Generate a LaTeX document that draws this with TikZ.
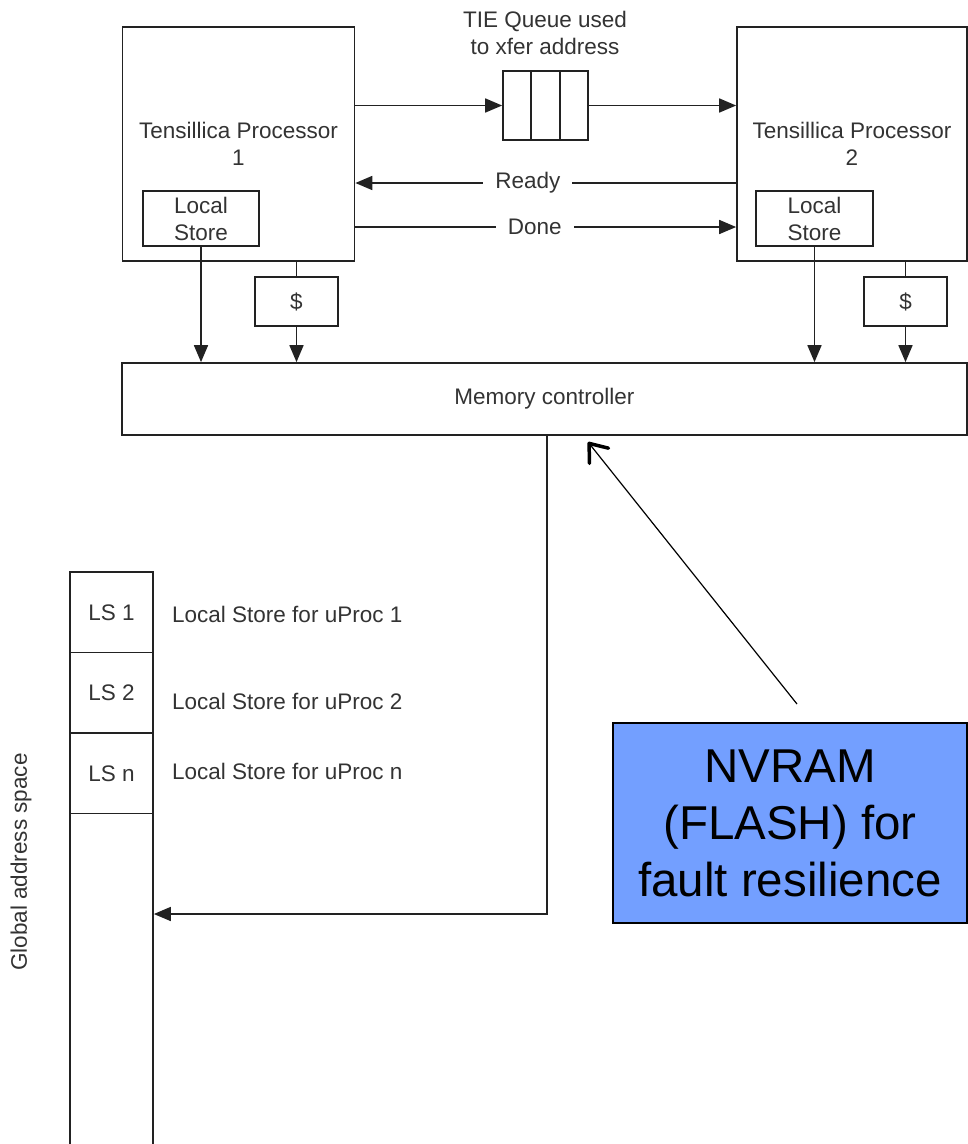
\documentclass[tikz,border=0pt]{standalone}
\usepackage{fontspec}
\setmainfont{Liberation Sans}
\usetikzlibrary{arrows.meta,calc}
\definecolor{txt}{HTML}{333333}
\definecolor{edge}{HTML}{222222}
\definecolor{nvblue}{RGB}{115,159,255}
\begin{document}
\begin{tikzpicture}[x=1pt,y=-1pt,
  blk/.style={draw=edge, line width=1.7pt, inner sep=0pt, align=center, text=txt,
    font=\fontsize{22.5}{27}\selectfont},
  lbl/.style={text=txt, inner sep=0pt, align=center, font=\fontsize{22.5}{27}\selectfont},
  ln/.style={draw=edge, line width=1.7pt},
  arr/.style={draw=edge, line width=1.7pt, -{Triangle[length=17pt,width=14pt]}},
  note/.style={draw=black, line width=1.2pt, -{Straight Barb[angle=75:20pt,line width=3.5pt,round]}}
]
\useasboundingbox (0,0) rectangle (968,1144);
\clip (0,0) rectangle (968,1144);

% processors
\node[blk, minimum width=232, minimum height=234] (p1) at (238.5,144) {Tensillica Processor\\1};
\node[blk, minimum width=230, minimum height=234] (p2) at (852,144) {Tensillica Processor\\2};
\node[blk, fill=white, minimum width=116, minimum height=55] (ls1) at (201,218.5) {Local\\Store};
\node[blk, fill=white, minimum width=117, minimum height=55] (ls2) at (814.5,218.5) {Local\\Store};
\node[blk, minimum width=83, minimum height=49] (c1) at (296.5,301.5) {\$};
\node[blk, minimum width=83, minimum height=49] (c2) at (905.5,301.5) {\$};
\node[blk, minimum width=845, minimum height=72] (mc) at (544.5,399) {Memory controller};

% queue
\node[blk, minimum width=85, minimum height=69] (q) at (545.5,105.5) {};
\draw[ln] ($(q.north west)!1/3!(q.north east)$) -- ($(q.south west)!1/3!(q.south east)$);
\draw[ln] ($(q.north west)!2/3!(q.north east)$) -- ($(q.south west)!2/3!(q.south east)$);
\node[lbl] (tie) at (545,33) {TIE Queue used\\to xfer address};

% processor links
\draw[arr] (p1.east |- q.west) -- (q.west);
\draw[arr] (q.east) -- (p2.west |- q.east);
\coordinate (ry) at (0,183);
\coordinate (dy) at (0,227);
\draw[arr] (p2.west |- ry) -- node[pos=0.547, lbl, fill=white, inner xsep=12pt, inner ysep=2pt] (ready) {Ready} (p1.east |- ry);
\draw[arr] (p1.east |- dy) -- node[pos=0.471, lbl, fill=white, inner xsep=12pt, inner ysep=2pt] (done) {Done} (p2.west |- dy);

% to memory controller
\draw[arr] (ls1.south) -- (ls1.south |- mc.north);
\draw[ln] (p1.south -| c1.north) -- (c1.north);
\draw[arr] (c1.south) -- (c1.south |- mc.north);
\draw[arr] (ls2.south) -- (ls2.south |- mc.north);
\draw[ln] (p2.south -| c2.north) -- (c2.north);
\draw[arr] (c2.south) -- (c2.south |- mc.north);

% global address space
\node[blk, minimum width=83, minimum height=80.5] (a1) at (111.5,612.25) {LS 1};
\node[blk, minimum width=83, minimum height=80.5] (a2) at (111.5,692.75) {LS 2};
\node[blk, minimum width=83, minimum height=80.5] (an) at (111.5,773.25) {LS n};
\node[blk, minimum width=83, minimum height=340] (arest) at (111.5,983.5) {};
\node[lbl, anchor=west] (t1) at (172,614) {Local Store for uProc 1};
\node[lbl, anchor=west] (t2) at (172,701) {Local Store for uProc 2};
\node[lbl, anchor=west] (tn) at (172,771) {Local Store for uProc n};
\node[lbl, rotate=90] (gas) at (21,862) {Global address space};

\coordinate (bend) at (547,914);
\draw[arr] (mc.south -| bend) -- (bend) -- (bend -| arest.east);

% NVRAM note
\node[draw=black, line width=1.4pt, fill=nvblue, minimum width=354, minimum height=200,
  inner sep=0pt, align=center, font=\fontsize{47.5}{57}\selectfont] (nv) at (790,823)
  {NVRAM\\(FLASH) for\\fault resilience};
\coordinate (nvtail) at (797,704);
\coordinate (nvtip) at (588,442);
\draw[note] (nvtail) -- (nvtip);
\end{tikzpicture}
\end{document}
